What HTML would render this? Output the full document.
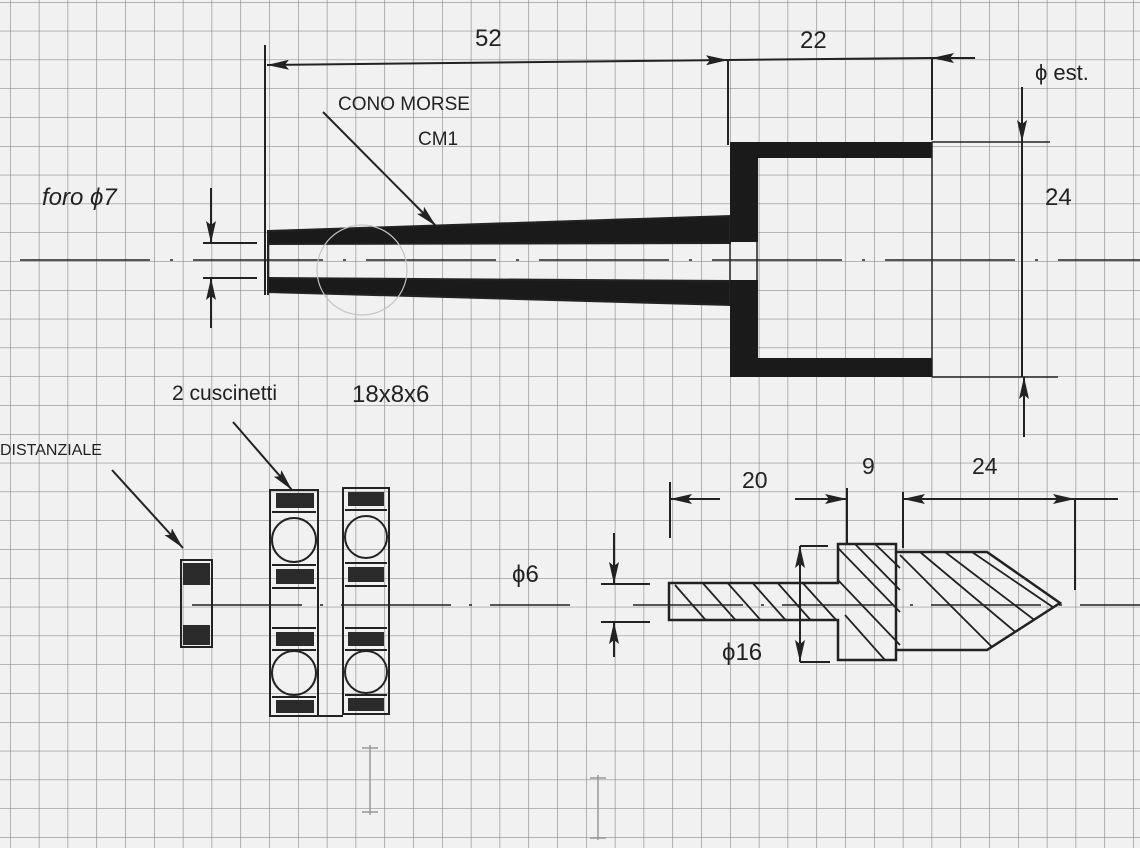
<!DOCTYPE html>
<html><head><meta charset="utf-8"><style>
html,body{margin:0;padding:0;background:#f1f1f1}
svg{display:block}
text{font-family:"Liberation Sans",sans-serif;fill:#222}
</style></head><body>
<svg width="1140" height="848" viewBox="0 0 1140 848" xmlns="http://www.w3.org/2000/svg">
<defs>
<pattern id="g" x="10" y="2" width="28.8" height="28.8" patternUnits="userSpaceOnUse">
<path d="M0 0V28.8M0 0H28.8" stroke="#7a7a7a" stroke-width="1.1" fill="none"/>
</pattern>
<marker id="a" viewBox="0 0 22 10" refX="22" refY="5" markerWidth="22" markerHeight="10" orient="auto-start-reverse" markerUnits="userSpaceOnUse"><path d="M0 0L22 5L0 10L4 5Z" fill="#222"/></marker>
<clipPath id="pc"><path d="M669 583H838V544H896V552H987L1060 603L987 650H896V660H838V620H669Z"/></clipPath>
</defs>
<rect width="1140" height="848" fill="#f1f1f1"/>
<rect width="1140" height="848" fill="url(#g)"/>
<g stroke="#222" fill="none" stroke-width="2">
<path d="M20 260H1140" stroke-width="1.5" stroke-dasharray="130 20 3 20"/>
<path d="M192 605H570M633 605H1140" stroke-width="1.5" stroke-dasharray="110 18 3 18"/>
<path d="M265 45V295"/>
<path d="M267 65L728 60" marker-start="url(#a)" marker-end="url(#a)"/>
<path d="M728 60L932 58"/>
<path d="M975 58L932 58" marker-end="url(#a)"/>
<path d="M728 60V145M932 57V140"/>
<polygon points="268,231 730,216 730,243 268,244" fill="#1a1a1a"/>
<polygon points="268,278 730,281 730,305 268,292" fill="#1a1a1a"/>
<path d="M268 231V295"/>
<rect x="730" y="142" width="202" height="16" fill="#1a1a1a" stroke="none"/>
<rect x="730" y="358" width="202" height="19" fill="#1a1a1a" stroke="none"/>
<rect x="730" y="142" width="28" height="100" fill="#1a1a1a" stroke="none"/>
<rect x="730" y="280" width="28" height="97" fill="#1a1a1a" stroke="none"/>
<path d="M730 242V280M757 242V280M932 142V377" stroke-width="1.5"/>
<path d="M932 142H1050M932 377H1058" stroke-width="1.5"/>
<path d="M1022 87V142" marker-end="url(#a)"/>
<path d="M1022 142V377"/>
<path d="M1024 437V377" marker-end="url(#a)"/>
<path d="M211 188V243" marker-end="url(#a)"/>
<path d="M211 328V278" marker-end="url(#a)"/>
<path d="M203 243H257M203 278H257"/>
<path d="M323 112L436 226" marker-end="url(#a)"/>
<circle cx="362" cy="270" r="45" stroke="#c4c4c4" stroke-width="1.2"/>
<path d="M112 470L183 548" marker-end="url(#a)"/>
<rect x="181" y="560" width="31" height="87"/>
<rect x="183" y="563" width="27" height="22" fill="#2a2a2a" stroke="none"/>
<rect x="183" y="625" width="27" height="20" fill="#2a2a2a" stroke="none"/>
<path d="M233 422L292 490" marker-end="url(#a)"/>
<rect x="270" y="490" width="48" height="226"/>
<rect x="343" y="488" width="46" height="226"/>
<path d="M318 716H343"/>
<path d="M272 512H316M272 565H316M272 588H316M272 628H316M272 650H316M272 697H316"/>
<path d="M345 510H387M345 563H387M345 586H387M345 628H387M345 650H387M345 695H387"/>
<circle cx="294" cy="540" r="22"/><circle cx="294" cy="673" r="22"/>
<circle cx="366" cy="537" r="21"/><circle cx="366" cy="672" r="21"/>
<g fill="#2a2a2a" stroke="none">
<rect x="276" y="493" width="38" height="15"/><rect x="276" y="569" width="38" height="15"/>
<rect x="276" y="632" width="38" height="14"/><rect x="276" y="700" width="38" height="13"/>
<rect x="348" y="492" width="36" height="14"/><rect x="348" y="567" width="36" height="15"/>
<rect x="348" y="632" width="36" height="14"/><rect x="348" y="698" width="36" height="13"/>
</g>
<path d="M614 533V584" marker-end="url(#a)"/>
<path d="M614 657V622" marker-end="url(#a)"/>
<path d="M601 584H650M601 622H650"/>
<path d="M669 583H838V544H896V552H987L1060 603L987 650H896V660H838V620H669Z" stroke-width="2.5"/>
<path d="M896 552V650" stroke-width="2.5"/>
<g stroke-width="1.8" clip-path="url(#pc)">
<path d="M675 585L710 625M700 580L740 625M725 580L765 625M750 580L790 625M775 580L815 625M800 580L838 622"/>
<path d="M838 548L900 612M838 580L900 645M845 615L885 660M855 544L900 590M875 544L900 568"/>
<path d="M900 555L995 650M920 552L1025 640M945 552L1045 628M972 552L1060 612M1005 560L1060 600"/>
</g>
<path d="M670 482V538M847 488V545M903 492V548M1075 500V590"/>
<path d="M720 499H670" marker-end="url(#a)"/>
<path d="M795 499H847" marker-end="url(#a)"/>
<path d="M1040 499H903" marker-end="url(#a)"/>
<path d="M1040 499H1075" marker-end="url(#a)"/>
<path d="M1075 499H1118"/>
<path d="M800 600V546" marker-end="url(#a)"/>
<path d="M800 600V662" marker-end="url(#a)"/>
<path d="M800 546H828M800 662H830"/>
<path d="M370 745V815M362 748H378M362 812H378M598 775V840M590 778H606M590 838H606" stroke="#999" stroke-width="1.5"/>
</g>
<text x="475" y="46" font-size="24">52</text>
<text x="800" y="48" font-size="24">22</text>
<text x="338" y="110" font-size="19">CONO MORSE</text>
<text x="418" y="145" font-size="19">CM1</text>
<text x="42" y="205" font-size="24" font-style="italic">foro ϕ7</text>
<text x="1035" y="80" font-size="22">ϕ est.</text>
<text x="1045" y="205" font-size="24">24</text>
<text x="172" y="400" font-size="21">2 cuscinetti</text>
<text x="352" y="402" font-size="24">18x8x6</text>
<text x="0" y="455" font-size="16">DISTANZIALE</text>
<text x="512" y="582" font-size="24">ϕ6</text>
<text x="742" y="488" font-size="23">20</text>
<text x="862" y="474" font-size="23">9</text>
<text x="972" y="474" font-size="23">24</text>
<text x="722" y="660" font-size="24">ϕ16</text>
</svg>
</body></html>
